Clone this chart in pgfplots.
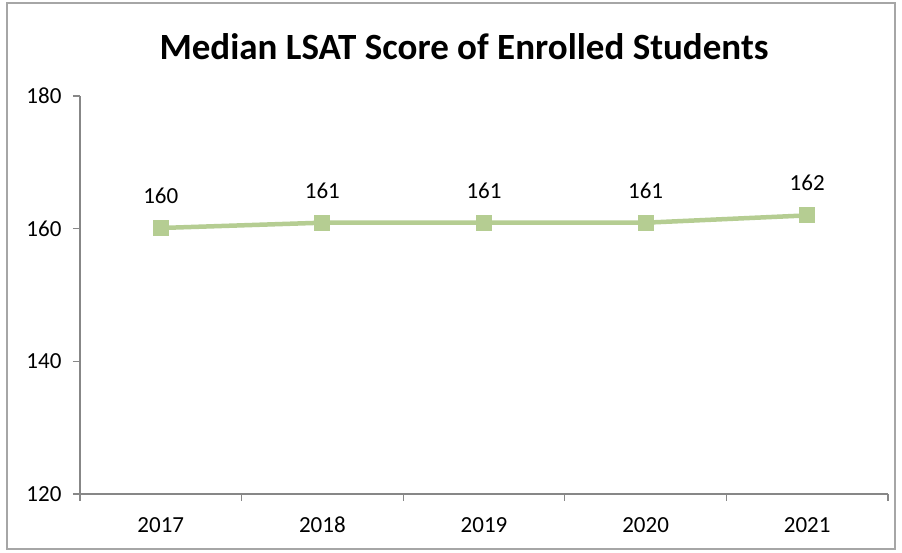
\documentclass[border=0pt]{standalone}
\usepackage{pgfplots}
\pgfplotsset{compat=1.18}
\usepackage{fontspec}
\setmainfont{Carlito}
\definecolor{linegreen}{HTML}{B5CD92}
\definecolor{axisgray}{HTML}{878787}
\definecolor{framegray}{HTML}{A6A6A6}
\begin{document}
\begin{tikzpicture}
\path[fill=white] (0pt,0pt) rectangle (902pt,553pt);
\draw[framegray, line width=1.2pt] (7pt,4pt) rectangle (895pt,550pt);
\node[font=\bfseries\fontsize{37}{44}\selectfont, anchor=center] at (464pt,506pt) {Median LSAT Score of Enrolled Students};
\begin{axis}[
  at={(80pt,59pt)}, anchor=south west,
  scale only axis, width=808pt, height=398pt,
  xmin=0.5, xmax=5.5, ymin=120, ymax=180,
  axis lines*=left,
  axis line style={axisgray, line width=1.2pt},
  xtick={1,2,3,4,5},
  xticklabels={2017,2018,2019,2020,2021},
  minor xtick={0.5,1.5,2.5,3.5,4.5,5.5},
  ytick={120,140,160,180},
  tick align=outside,
  major tick length=7pt, minor tick length=7pt,
  x tick style={draw=none},
  minor x tick style={draw=axisgray, line width=1.2pt},
  y tick style={axisgray, line width=1.2pt},
  xticklabel style={anchor=base, yshift=-32pt},
  yticklabel style={xshift=-8pt},
  tick label style={font=\fontsize{23}{28}\selectfont},
  /pgf/number format/assume math mode=true,
  clip=false,
  nodes near coords={\pgfmathprintnumber[fixed,precision=0]{\pgfplotspointmeta}},
  nodes near coords style={font=\fontsize{23}{28}\selectfont, text=black, anchor=south, yshift=21pt},
]
\addplot[linegreen, line width=4.5pt, mark=square*, mark size=7.5pt, mark options={fill=linegreen, draw=linegreen, line width=0pt}]
coordinates {(1,160.1) (2,160.9) (3,160.9) (4,160.9) (5,162.0)};
\end{axis}
\end{tikzpicture}
\end{document}
